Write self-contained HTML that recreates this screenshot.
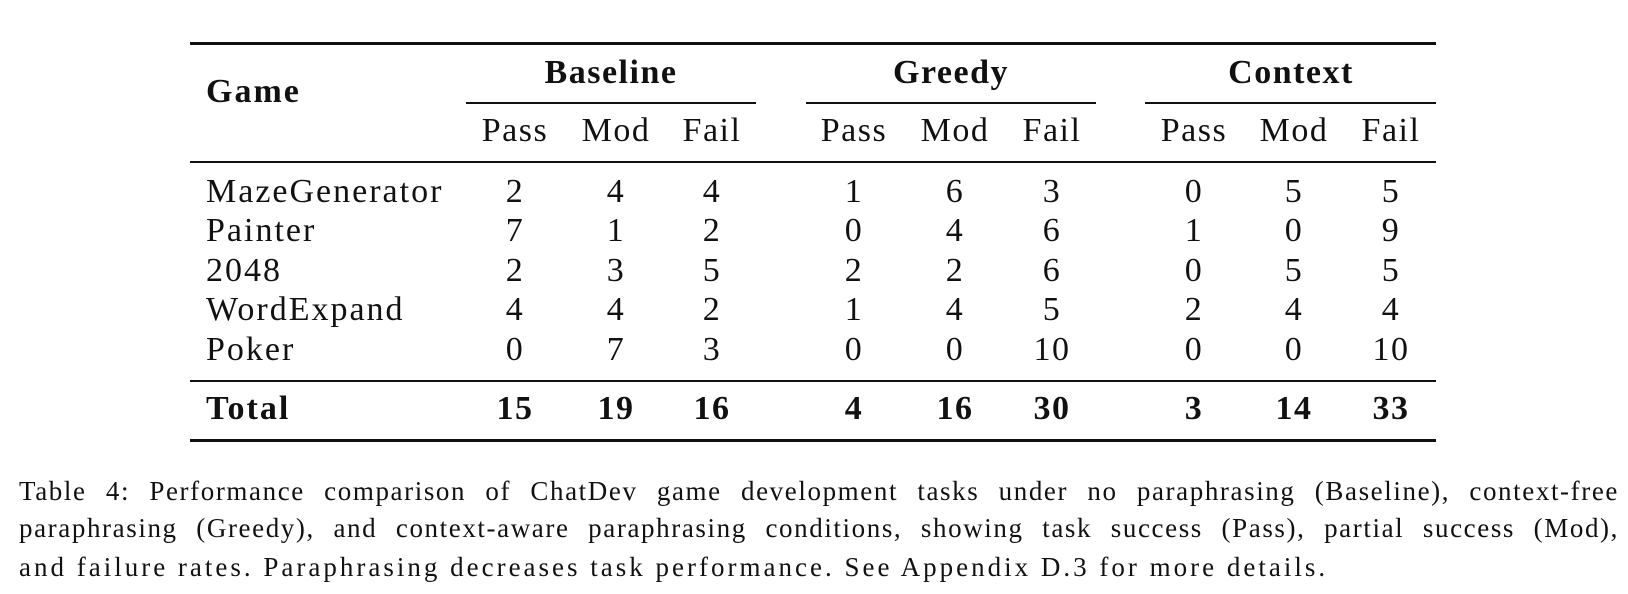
<!DOCTYPE html>
<html><head><meta charset="utf-8"><style>
body{margin:0;width:1628px;height:594px;background:#fff;position:relative;overflow:hidden;font-family:"Liberation Serif",serif;color:#111}
.r{position:absolute;background:#111}
.t{position:absolute;transform:translate(-50%,-50%);white-space:nowrap;font-size:34px;line-height:1;letter-spacing:1.5px}
.l{position:absolute;transform:translateY(-50%);white-space:nowrap;font-size:34px;line-height:1;letter-spacing:2px}
.b{font-weight:bold}
.cap{position:absolute;left:19px;width:1600px;font-size:27px;line-height:1;white-space:nowrap;letter-spacing:3px}
</style></head><body>
<div class="r" style="left:190px;top:42px;width:1246px;height:3px"></div>
<div class="r" style="left:466px;top:102px;width:290px;height:1.5px"></div>
<div class="r" style="left:806px;top:102px;width:290px;height:1.5px"></div>
<div class="r" style="left:1145px;top:102px;width:291px;height:1.5px"></div>
<div class="r" style="left:190px;top:161px;width:1246px;height:2px"></div>
<div class="r" style="left:190px;top:380px;width:1246px;height:2px"></div>
<div class="r" style="left:190px;top:439px;width:1246px;height:3px"></div>

<div class="l b" style="left:206px;top:92px">Game</div>
<div class="t b" style="left:611px;top:73px">Baseline</div>
<div class="t b" style="left:951px;top:73px">Greedy</div>
<div class="t b" style="left:1291px;top:73px">Context</div>

<div class="t" style="left:515px;top:131px">Pass</div><div class="t" style="left:616px;top:131px">Mod</div><div class="t" style="left:712px;top:131px">Fail</div>
<div class="t" style="left:854px;top:131px">Pass</div><div class="t" style="left:955px;top:131px">Mod</div><div class="t" style="left:1052px;top:131px">Fail</div>
<div class="t" style="left:1194px;top:131px">Pass</div><div class="t" style="left:1294px;top:131px">Mod</div><div class="t" style="left:1391px;top:131px">Fail</div>

<div class="l" style="left:206px;top:192px">MazeGenerator</div>
<div class="t" style="left:515px;top:192px">2</div><div class="t" style="left:616px;top:192px">4</div><div class="t" style="left:712px;top:192px">4</div>
<div class="t" style="left:854px;top:192px">1</div><div class="t" style="left:955px;top:192px">6</div><div class="t" style="left:1052px;top:192px">3</div>
<div class="t" style="left:1194px;top:192px">0</div><div class="t" style="left:1294px;top:192px">5</div><div class="t" style="left:1391px;top:192px">5</div>

<div class="l" style="left:206px;top:231px">Painter</div>
<div class="t" style="left:515px;top:231px">7</div><div class="t" style="left:616px;top:231px">1</div><div class="t" style="left:712px;top:231px">2</div>
<div class="t" style="left:854px;top:231px">0</div><div class="t" style="left:955px;top:231px">4</div><div class="t" style="left:1052px;top:231px">6</div>
<div class="t" style="left:1194px;top:231px">1</div><div class="t" style="left:1294px;top:231px">0</div><div class="t" style="left:1391px;top:231px">9</div>

<div class="l" style="left:206px;top:271px">2048</div>
<div class="t" style="left:515px;top:271px">2</div><div class="t" style="left:616px;top:271px">3</div><div class="t" style="left:712px;top:271px">5</div>
<div class="t" style="left:854px;top:271px">2</div><div class="t" style="left:955px;top:271px">2</div><div class="t" style="left:1052px;top:271px">6</div>
<div class="t" style="left:1194px;top:271px">0</div><div class="t" style="left:1294px;top:271px">5</div><div class="t" style="left:1391px;top:271px">5</div>

<div class="l" style="left:206px;top:310px">WordExpand</div>
<div class="t" style="left:515px;top:310px">4</div><div class="t" style="left:616px;top:310px">4</div><div class="t" style="left:712px;top:310px">2</div>
<div class="t" style="left:854px;top:310px">1</div><div class="t" style="left:955px;top:310px">4</div><div class="t" style="left:1052px;top:310px">5</div>
<div class="t" style="left:1194px;top:310px">2</div><div class="t" style="left:1294px;top:310px">4</div><div class="t" style="left:1391px;top:310px">4</div>

<div class="l" style="left:206px;top:350px">Poker</div>
<div class="t" style="left:515px;top:350px">0</div><div class="t" style="left:616px;top:350px">7</div><div class="t" style="left:712px;top:350px">3</div>
<div class="t" style="left:854px;top:350px">0</div><div class="t" style="left:955px;top:350px">0</div><div class="t" style="left:1052px;top:350px">10</div>
<div class="t" style="left:1194px;top:350px">0</div><div class="t" style="left:1294px;top:350px">0</div><div class="t" style="left:1391px;top:350px">10</div>

<div class="l b" style="left:206px;top:409px">Total</div>
<div class="t b" style="left:515px;top:409px">15</div><div class="t b" style="left:616px;top:409px">19</div><div class="t b" style="left:712px;top:409px">16</div>
<div class="t b" style="left:854px;top:409px">4</div><div class="t b" style="left:955px;top:409px">16</div><div class="t b" style="left:1052px;top:409px">30</div>
<div class="t b" style="left:1194px;top:409px">3</div><div class="t b" style="left:1294px;top:409px">14</div><div class="t b" style="left:1391px;top:409px">33</div>

<div class="cap" style="top:478px;text-align:justify;text-align-last:justify;letter-spacing:1.6px">Table 4: Performance comparison of ChatDev game development tasks under no paraphrasing (Baseline), context-free</div>
<div class="cap" style="top:515px;text-align:justify;text-align-last:justify;letter-spacing:1.6px">paraphrasing (Greedy), and context-aware paraphrasing conditions, showing task success (Pass), partial success (Mod),</div>
<div class="cap" style="top:554px">and failure rates. Paraphrasing decreases task performance. See Appendix D.3 for more details.</div>
</body></html>
